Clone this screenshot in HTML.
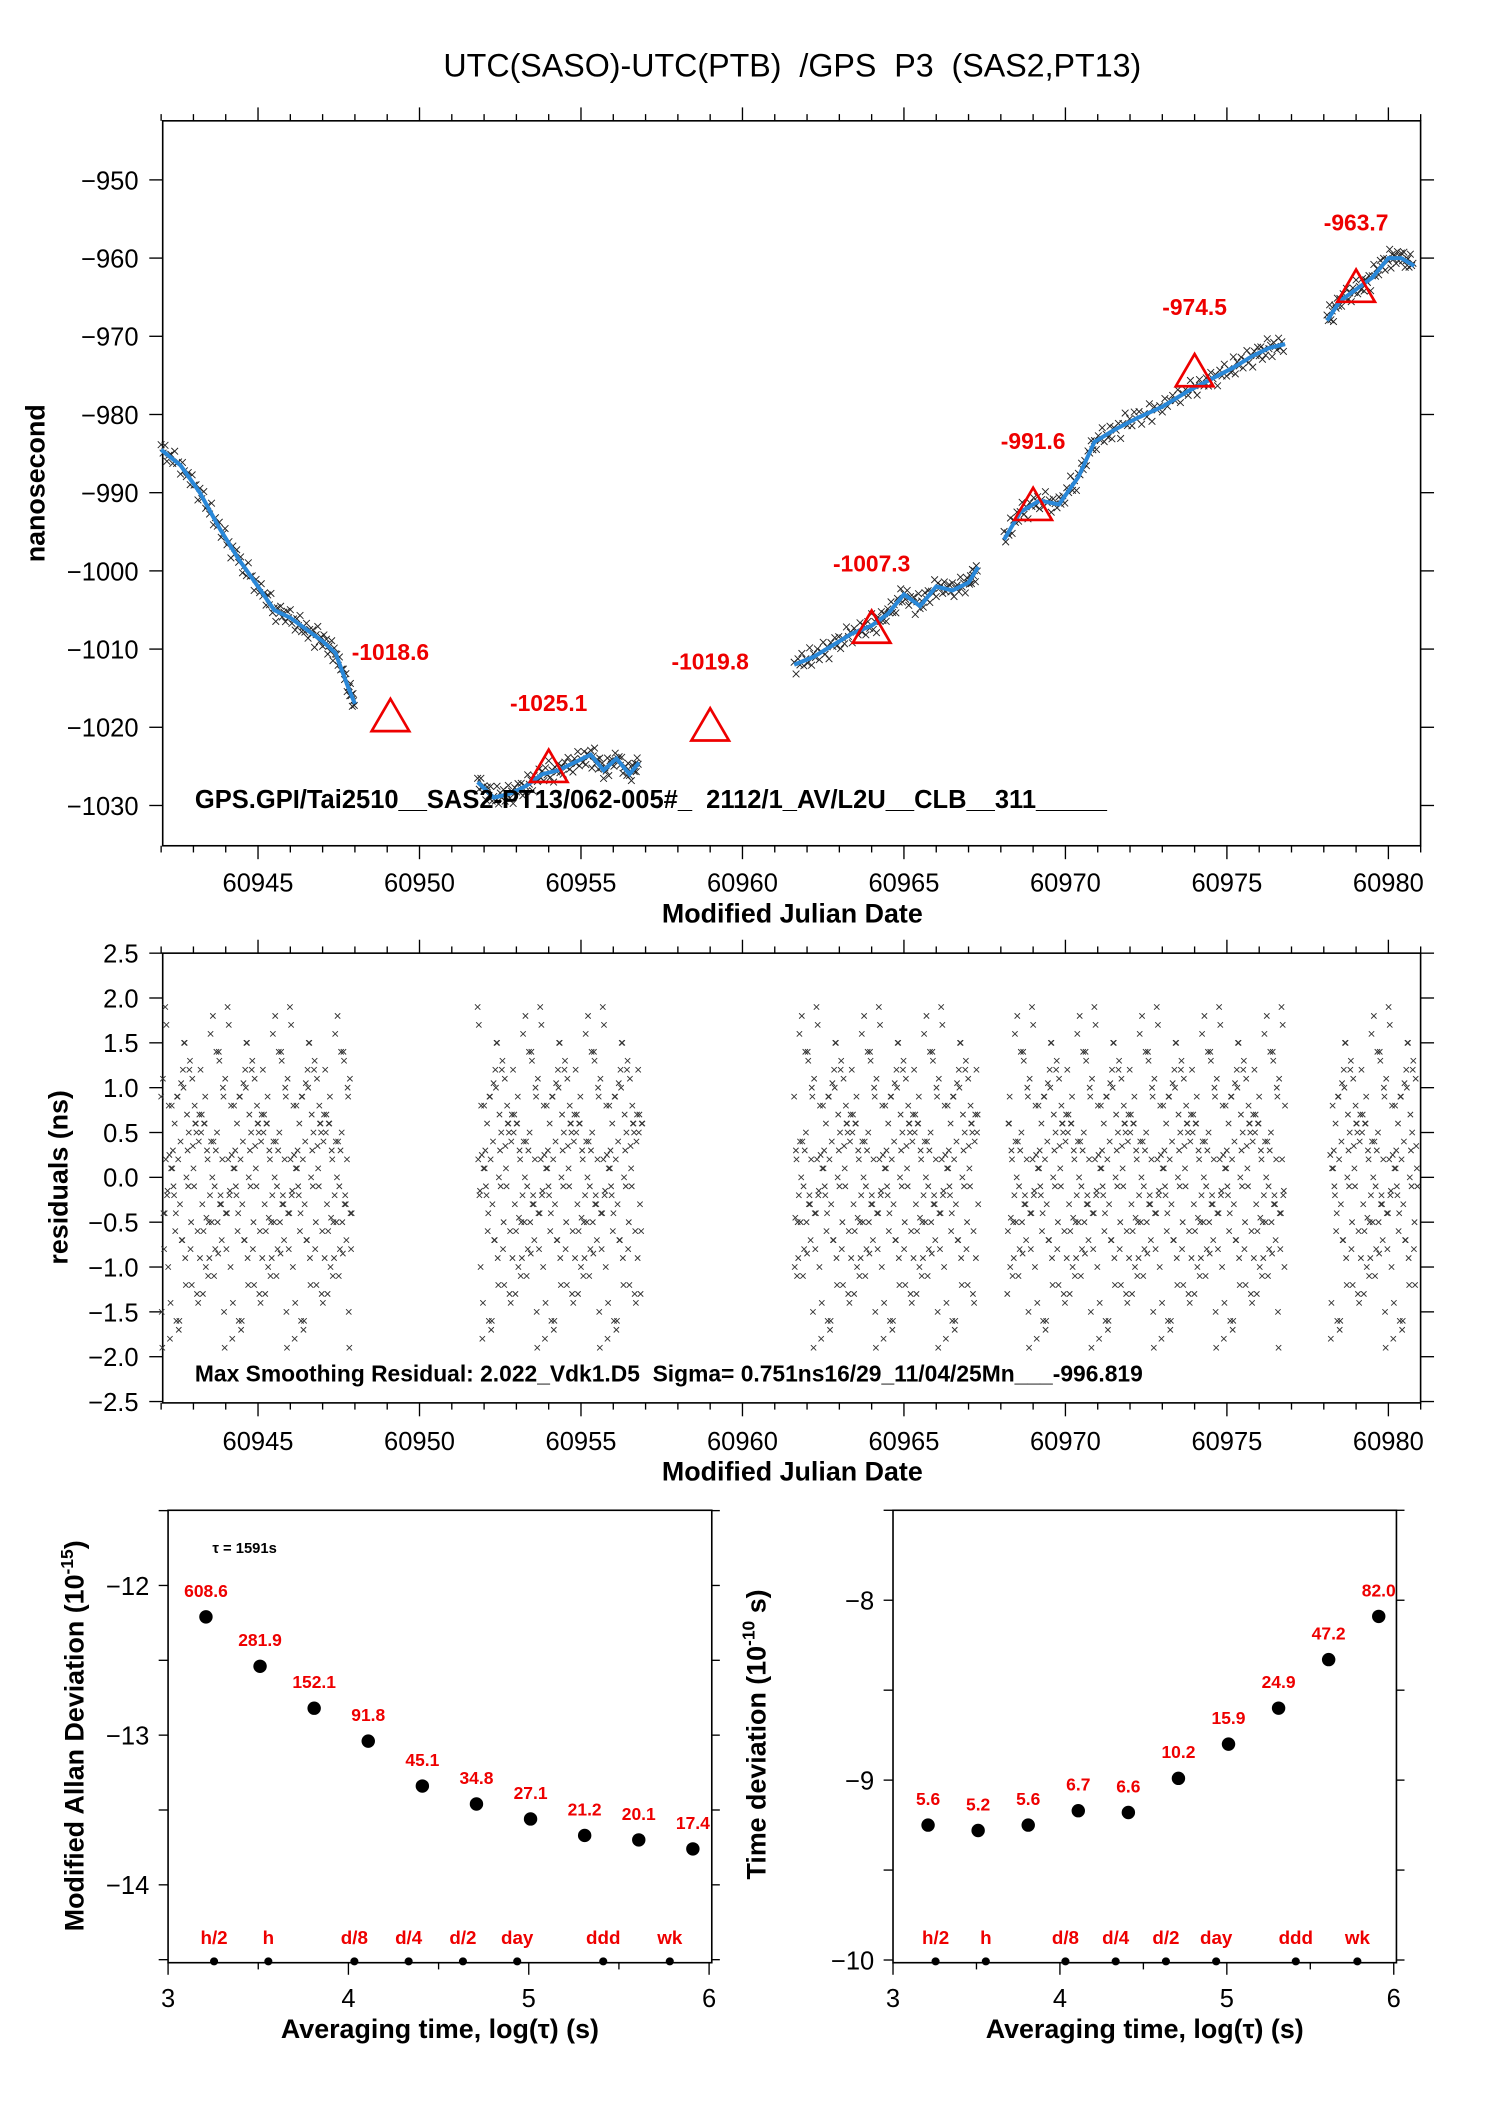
<!DOCTYPE html>
<html><head><meta charset="utf-8">
<style>
html,body{margin:0;padding:0;background:#fff;}
svg{display:block;font-family:"Liberation Sans",Arial,sans-serif;}
</style></head>
<body>
<svg id="chart" width="1488" height="2105" viewBox="0 0 1108 1568" xmlns="http://www.w3.org/2000/svg"></svg>
<script>
// ---------- data ----------
const seg1MJD=[60942.0,60942.6,60943.2,60943.8,60944.4,60945.0,60945.5,60946.0,60946.5,60947.0,60947.4,60947.8,60948.0];
const seg1Val=[-984.5,-986.5,-990,-994.5,-998.5,-1002,-1005,-1006,-1007.5,-1009,-1010.5,-1015,-1017];
const seg2MJD=[60951.8,60952.3,60952.8,60953.3,60953.8,60954.3,60954.8,60955.3,60955.7,60956.1,60956.5,60956.8];
const seg2Val=[-1027,-1029,-1028.5,-1027.5,-1026,-1025.5,-1024.5,-1023.5,-1025.5,-1024,-1026,-1024.5];
const seg3MJD=[60961.6,60962.2,60962.8,60963.4,60964.0,60964.5,60965.0,60965.5,60966.0,60966.5,60967.0,60967.3];
const seg3Val=[-1012,-1011,-1009.5,-1008,-1007,-1005.5,-1003,-1004.5,-1002,-1002.5,-1001.5,-999.5];
const seg4MJD=[60968.1,60968.6,60969.2,60969.8,60970.4,60970.9,60971.5,60972.2,60973.0,60973.8,60974.5,60975.2,60975.8,60976.3,60976.8];
const seg4Val=[-996,-992.5,-991,-991.5,-988,-983.5,-982,-980.5,-979,-977,-975.5,-974,-972.5,-971.5,-971];
const seg5MJD=[60978.1,60978.5,60979.0,60979.5,60980.0,60980.4,60980.8];
const seg5Val=[-968,-965.5,-964,-962.5,-960,-960,-961];
const triMJD=[60949.1,60954.0,60959.0,60964.0,60969.0,60974.0,60979.0];
const triVal=[-1018.6,-1025.1,-1019.8,-1007.3,-991.6,-974.5,-963.7];
const triLabels=["-1018.6","-1025.1","-1019.8","-1007.3","-991.6","-974.5","-963.7"];
const topYTicks=[-950,-960,-970,-980,-990,-1000,-1010,-1020,-1030];
const mjdTicks=[60945,60950,60955,60960,60965,60970,60975,60980];
const residStart=[60942.0,60951.8,60961.6,60968.2,60978.2];
const residEnd=[60947.9,60956.9,60967.3,60976.8,60980.9];
const residVals=[0.8,-0.3,1.2,-1.1,0.1,0.5,-0.7,1.5,-0.2,0.3,-1.4,0.9,0.0,-0.5,0.6,-0.9,1.1,-0.1,0.4,-1.6,0.7,-0.4,1.3,-0.8,0.2,-0.6,1.7,-1.2,0.5,-0.3,0.9,-1.0,0.1,1.4,-0.7,0.3,-1.8,0.6,-0.2,1.0,-0.5,0.8,-1.3,0.2,-0.9,1.6,-0.1,0.4,-1.5,0.7,0.0,-0.6,1.2,-0.4,0.5,-1.1,0.9,-0.3,1.9,-0.8,0.3,-1.7,0.6,-0.2,1.1,-0.5,0.4,-1.0,0.8,-0.1,1.3,-0.7,0.2,-1.4,0.6,-0.3,1.5,-0.9,0.1,-0.6,1.0,-1.2,0.4,-0.2,0.7,-1.9,0.3,1.8,-0.4,0.5,-0.8,1.2,-0.1,0.9,-1.3,0.2,-0.5,1.4,-1.6,0.6,-0.15,0.35,-0.85,1.05,-0.45,0.25];
const residYTicks=[2.5,2.0,1.5,1.0,0.5,0.0,-0.5,-1.0,-1.5,-2.0,-2.5];
const adevX=[3.21,3.51,3.81,4.11,4.41,4.71,5.01,5.31,5.61,5.91];
const adevY=[-12.21,-12.54,-12.82,-13.04,-13.34,-13.46,-13.56,-13.67,-13.70,-13.76];
const adevLabels=["608.6","281.9","152.1","91.8","45.1","34.8","27.1","21.2","20.1","17.4"];
const tdevX=[3.21,3.51,3.81,4.11,4.41,4.71,5.01,5.31,5.61,5.91];
const tdevY=[-9.25,-9.28,-9.25,-9.17,-9.18,-8.99,-8.80,-8.60,-8.33,-8.09];
const tdevLabels=["5.6","5.2","5.6","6.7","6.6","10.2","15.9","24.9","47.2","82.0"];
const markX=[3.255,3.556,4.033,4.334,4.635,4.936,5.413,5.782];
const markLabels=["h/2","h","d/8","d/4","d/2","day","ddd","wk"];

// ---------- helpers ----------
const S=document.getElementById('chart');
const NS='http://www.w3.org/2000/svg';
function el(tag,attrs,parent){const e=document.createElementNS(NS,tag);for(const k in attrs)e.setAttribute(k,attrs[k]);(parent||S).appendChild(e);return e;}
function txt(x,y,s,size,opts){const t=el('text',Object.assign({x:x,y:y,'font-size':size,fill:'#000'},opts||{}));t.textContent=s;return t;}

const mjdX=m=>192+(m-60945)*(1034-192)/35;
const topY=v=>134+(-950-v)*(600-134)/80;
const resY=v=>877-v*(1044-710)/5;
const lX=v=>125+(v-3)*(528-125)/3;
const lY=v=>1181+(-12-v)*(1404-1181)/2;
const rX=v=>665+(v-3)*(1038-665)/3;
const rY=v=>1192+(-8-v)*(1460-1192)/2;

const titleEl=txt(590,57,"UTC(SASO)-UTC(PTB)  /GPS  P3  (SAS2,PT13)",24,{'text-anchor':'middle','xml:space':'preserve',style:'white-space:pre'});



// ---------- top panel ----------
const topG=el('g',{});


el('rect',{x:121,y:90,width:937,height:540,fill:'none',stroke:'#000','stroke-width':1.2},topG);
topYTicks.forEach(v=>{const y=topY(v);
  el('line',{x1:111,y1:y,x2:121,y2:y,stroke:'#000'},topG);
  el('line',{x1:1058,y1:y,x2:1068,y2:y,stroke:'#000'},topG);
  const t=txt(103,y+7,v<0?'\u2212'+Math.abs(v):String(v),19,{'text-anchor':'end'});topG.appendChild(t);
  
  
});
for(let m=60942;m<=60981;m++){const x=mjdX(m);const len=(m%5===0)?10:5;
  el('line',{x1:x,y1:630,x2:x,y2:630+len,stroke:'#000'},topG);el('line',{x1:x,y1:90,x2:x,y2:90-len,stroke:'#000'},topG);}
mjdTicks.forEach(m=>{const t=txt(mjdX(m),664,String(m),19,{'text-anchor':'middle'});topG.appendChild(t);
  
  });
const tx1=txt(590,687,"Modified Julian Date",20,{'text-anchor':'middle','font-weight':'bold'});


const ty1=txt(0,0,"nanosecond",20,{'text-anchor':'middle','font-weight':'bold',transform:'translate(33,360) rotate(-90)'});



const segsM=[seg1MJD,seg2MJD,seg3MJD,seg4MJD,seg5MJD];
const segsV=[seg1Val,seg2Val,seg3Val,seg4Val,seg5Val];
let ri=0;
segsM.forEach((ms,si)=>{
  const vs=segsV[si];
  const g=el('g',{stroke:'#222','stroke-width':0.7},topG);
  
  
  for(let k=0;k<ms.length-1;k++){
    for(let j=0;j<10;j++){
      const f=j/10;const m=ms[k]+(ms[k+1]-ms[k])*f;const v=vs[k]+(vs[k+1]-vs[k])*f+residVals[(ri++)%residVals.length]*0.8;
      const x=mjdX(m),y=topY(v);
      el('path',{d:`M${x-2.5},${y-2.5}L${x+2.5},${y+2.5}M${x-2.5},${y+2.5}L${x+2.5},${y-2.5}`},g);
    }
  }
  const p=el('polyline',{points:ms.map((m,i)=>mjdX(m)+','+topY(vs[i])).join(' '),fill:'none',stroke:'#2a88d8','stroke-width':3},topG);
  
  
});
triMJD.forEach((m,i)=>{const x=mjdX(m),y=topY(triVal[i]);
  const t=el('path',{d:`M${x},${y-13}L${x+14},${y+11}L${x-14},${y+11}Z`,fill:'none',stroke:'#e00','stroke-width':2},topG);
  
  
  const l=txt(x,y-42,triLabels[i],17,{'text-anchor':'middle',fill:'#e00','font-weight':'bold'});topG.appendChild(l);
  
  
});
const ann1=txt(145,602,"GPS.GPI/Tai2510__SAS2-PT13/062-005#_  2112/1_AV/L2U__CLB__311_____",19,{'font-weight':'bold','xml:space':'preserve',style:'white-space:pre'});



// ---------- residual panel ----------
const midG=el('g',{});


el('rect',{x:121,y:710,width:937,height:335,fill:'none',stroke:'#000','stroke-width':1.2},midG);
residYTicks.forEach(v=>{const y=resY(v);
  el('line',{x1:111,y1:y,x2:121,y2:y,stroke:'#000'},midG);el('line',{x1:1058,y1:y,x2:1068,y2:y,stroke:'#000'},midG);
  const t=txt(103,y+7,v<0?'\u2212'+Math.abs(v).toFixed(1):v.toFixed(1),19,{'text-anchor':'end'});midG.appendChild(t);
  
  });
for(let m=60942;m<=60981;m++){const x=mjdX(m);const len=(m%5===0)?10:5;
  el('line',{x1:x,y1:1045,x2:x,y2:1045+len,stroke:'#000'},midG);el('line',{x1:x,y1:710,x2:x,y2:710-len,stroke:'#000'},midG);}
mjdTicks.forEach(m=>{const t=txt(mjdX(m),1080,String(m),19,{'text-anchor':'middle'});midG.appendChild(t);
  
  });
const tx2=txt(590,1103,"Modified Julian Date",20,{'text-anchor':'middle','font-weight':'bold'});


const ty2=txt(0,0,"residuals (ns)",20,{'text-anchor':'middle','font-weight':'bold',transform:'translate(50,877) rotate(-90)'});


const rg=el('g',{stroke:'#333','stroke-width':0.7},midG);


let rk=0;
const NR=residVals.length;
residStart.forEach((s,i)=>{const e=residEnd[i];const n=Math.round((e-s)*55);
  for(let j=0;j<n;j++){const m=s+(e-s)*j/(n-1);const v=residVals[(rk*37+11)%NR];rk++;
    const x=mjdX(m),y=resY(v);el('path',{d:`M${x-2},${y-2}L${x+2},${y+2}M${x-2},${y+2}L${x+2},${y-2}`},rg);}
});
const ann2=txt(145,1029,"Max Smoothing Residual: 2.022_Vdk1.D5  Sigma= 0.751ns16/29_11/04/25Mn___-996.819",17,{'font-weight':'bold','xml:space':'preserve',style:'white-space:pre'});



// ---------- bottom panels ----------
function devPanel(name,x0,x1,X,Y,yTicks,yMinor,xs,ys,labels){
  const g=el('g',{});
  
  
  el('rect',{x:x0,y:1125,width:x1-x0,height:337,fill:'none',stroke:'#000','stroke-width':1.2},g);
  yMinor.forEach(v=>{const y=Y(v);el('line',{x1:x0,y1:y,x2:x0-7,y2:y,stroke:'#000'},g);el('line',{x1:x1,y1:y,x2:x1+6,y2:y,stroke:'#000'},g);});
  yTicks.forEach(v=>{const t=txt(x0-14,Y(v)+7,'\u2212'+Math.abs(v),19,{'text-anchor':'end'});g.appendChild(t);
    
    });
  for(let v=3;v<=6;v+=0.5){const x=X(v);const major=(v%1===0);
    el('line',{x1:x,y1:1462,x2:x,y2:major?1471:1467,stroke:'#000'},g);
    if(major){const t=txt(x,1495,String(v),19,{'text-anchor':'middle'});g.appendChild(t);
      
      }}
  const xt=txt((x0+x1)/2,1518,"Averaging time, log(\u03c4) (s)",20,{'text-anchor':'middle','font-weight':'bold'});g.appendChild(xt);
  
  
  xs.forEach((v,i)=>{const c=el('circle',{cx:X(v),cy:Y(ys[i]),r:5,fill:'#000'},g);
    
    
    const l=txt(X(v),Y(ys[i])-15,labels[i],13,{'text-anchor':'middle',fill:'#e00','font-weight':'bold'});g.appendChild(l);
    
    });
  markX.forEach((v,i)=>{const c=el('circle',{cx:X(v),cy:1461,r:3,fill:'#000'},g);
    
    
    const l=txt(X(v),1448,markLabels[i],14,{'text-anchor':'middle',fill:'#e00','font-weight':'bold'});g.appendChild(l);
    
    });
  return g;
}
const lpG=devPanel('mdev-panel',125,530,lX,lY,[-12,-13,-14],[-11.5,-12,-12.5,-13,-13.5,-14,-14.5],adevX,adevY,adevLabels);
const lt=el('text',{x:0,y:0,'font-size':20,'font-weight':'bold','text-anchor':'middle',transform:'translate(62,1293) rotate(-90)'},lpG);
lt.textContent='Modified Allan Deviation (10';
const lts1=el('tspan',{'font-size':13,dy:-8},lt);lts1.textContent='-15';
const lts2=el('tspan',{dy:8},lt);lts2.textContent=')';


const tau=txt(158,1157,"\u03c4 = 1591s",11,{'font-weight':'bold'});lpG.appendChild(tau);


const rpG=devPanel('tdev-panel',665,1040,rX,rY,[-8,-9,-10],[-7.5,-8,-8.5,-9,-9.5,-10],tdevX,tdevY,tdevLabels);
const rt=el('text',{x:0,y:0,'font-size':20,'font-weight':'bold','text-anchor':'middle',transform:'translate(570,1292) rotate(-90)'},rpG);
rt.textContent='Time deviation (10';
const rts1=el('tspan',{'font-size':13,dy:-8},rt);rts1.textContent='-10';
const rts2=el('tspan',{dy:8},rt);rts2.textContent=' s)';


</script>
</body></html>
